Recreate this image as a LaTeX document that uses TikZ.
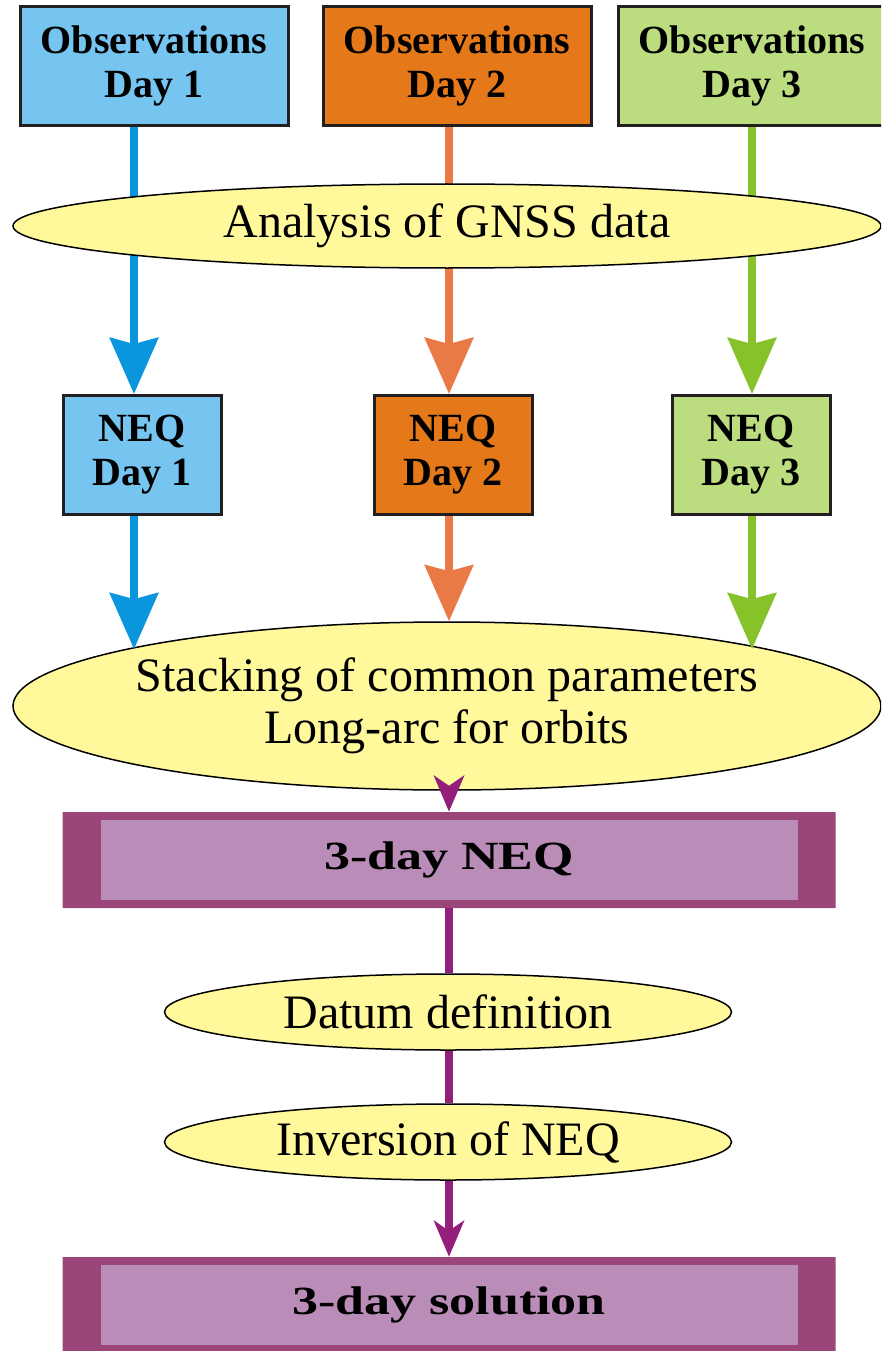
\documentclass[tikz,border=0pt]{standalone}
\usepackage{fontspec}
\setmainfont{Liberation Serif}
\newfontfamily\widefont[FakeStretch=1.3]{Liberation Serif}
\usepackage{xcolor}
\usetikzlibrary{shapes.geometric, shapes.misc, arrows.meta, positioning, calc}

\definecolor{obsblue}{HTML}{76C5F0}
\definecolor{obsorange}{HTML}{E57819}
\definecolor{obsgreen}{HTML}{BBDD80}
\definecolor{laneblue}{HTML}{0A96DC}
\definecolor{laneorange}{HTML}{E97A45}
\definecolor{lanegreen}{HTML}{86C22A}
\definecolor{ovalfill}{HTML}{FFF99C}
\definecolor{barout}{HTML}{9A4679}
\definecolor{barin}{HTML}{BA8DB8}
\definecolor{arrpurple}{HTML}{931F7B}
\definecolor{boxline}{HTML}{231F20}

\begin{document}
\begin{tikzpicture}[x=1pt, y=-1pt,
  obsbox/.style={rectangle, draw=boxline, line width=3pt, minimum width=268pt,
                 minimum height=119pt, align=center, inner sep=0pt,
                 font=\fontsize{40}{44}\selectfont\bfseries},
  neqbox/.style={obsbox, minimum width=158pt},
  oval/.style={ellipse, draw=black, line width=1.5pt, fill=ovalfill, inner sep=0pt,
               align=center, font=\fontsize{48}{52}\selectfont},
  outerbar/.style={chamfered rectangle, chamfered rectangle xsep=10pt,
                   chamfered rectangle ysep=4pt, fill=barout, inner sep=0pt,
                   minimum width=773pt, minimum height=96pt},
  innerbar/.style={rectangle, fill=barin, minimum width=697pt, minimum height=80pt,
                   font=\widefont\fontsize{40}{44}\selectfont\bfseries},
  arr/.style={-{Stealth[length=56pt, width=48pt, inset=6pt]}, line width=8pt},
  parr/.style={-{Stealth[length=36pt, width=30pt, inset=10pt]}, line width=7.5pt, draw=arrpurple},
  pline/.style={line width=7.5pt, draw=arrpurple}
]
\useasboundingbox (0,0) rectangle (881,1351);
\clip (0,0) rectangle (881,1351);

% daily observations
\node[obsbox, fill=obsblue] (obs1) at (154,66) {Observations\\Day 1};
\node[obsbox, fill=obsorange] (obs2) at (457,66) {Observations\\Day 2};
\node[obsbox, fill=obsgreen] (obs3) at (752,66) {Observations\\Day 3};

% daily normal equations
\node[neqbox, fill=obsblue] (neq1) at (142,455) {NEQ\\Day 1};
\node[neqbox, fill=obsorange] (neq2) at (453,455) {NEQ\\Day 2};
\node[neqbox, fill=obsgreen] (neq3) at (751,455) {NEQ\\Day 3};

\foreach \i/\a/\b/\c in {1/-20/-8/laneblue, 2/-8/-4/laneorange, 3/0/1/lanegreen}
  \draw[arr, \c] ([xshift=\a pt]obs\i.south) -- ([xshift=\b pt]neq\i.north);

\node[oval, minimum width=868pt, minimum height=84pt] (gnss) at (447,226) {Analysis of GNSS data};
\node[oval, inner xsep=-8pt, minimum width=868pt, minimum height=168pt] (stack) at (447,706)
  {Stacking of common parameters\\Long-arc for orbits};

\draw[arr, laneblue] ([xshift=-8pt]neq1.south) -- ([xshift=-8pt]neq1.south |- stack.170);
\draw[arr, laneorange] ([xshift=-4pt]neq2.south) -- ([xshift=-4pt]neq2.south |- stack.north);
\draw[arr, lanegreen] ([xshift=1pt]neq3.south) -- ([xshift=1pt]neq3.south |- stack.10);

% combination
\node[outerbar] (neq3d) at (449,860) {};
\node[innerbar] (neq3din) at (neq3d) {3-day NEQ};
\node[oval, minimum width=567pt, minimum height=76pt] (datum) at (448,1012) {Datum definition};
\node[oval, minimum width=567pt, minimum height=76pt] (inv) at (448,1142) {Inversion of NEQ};
\node[outerbar] (sol) at (449,1305) {};
\node[innerbar] (solin) at (sol) {3-day solution};

\draw[parr] (stack.south -| neq3d) -- (neq3d);
\draw[pline] (neq3d) -- (neq3d |- datum.north);
\draw[pline] (datum.south -| neq3d) -- (inv.north -| neq3d);
\draw[parr] (inv.south -| sol) -- (sol);
\end{tikzpicture}
\end{document}
